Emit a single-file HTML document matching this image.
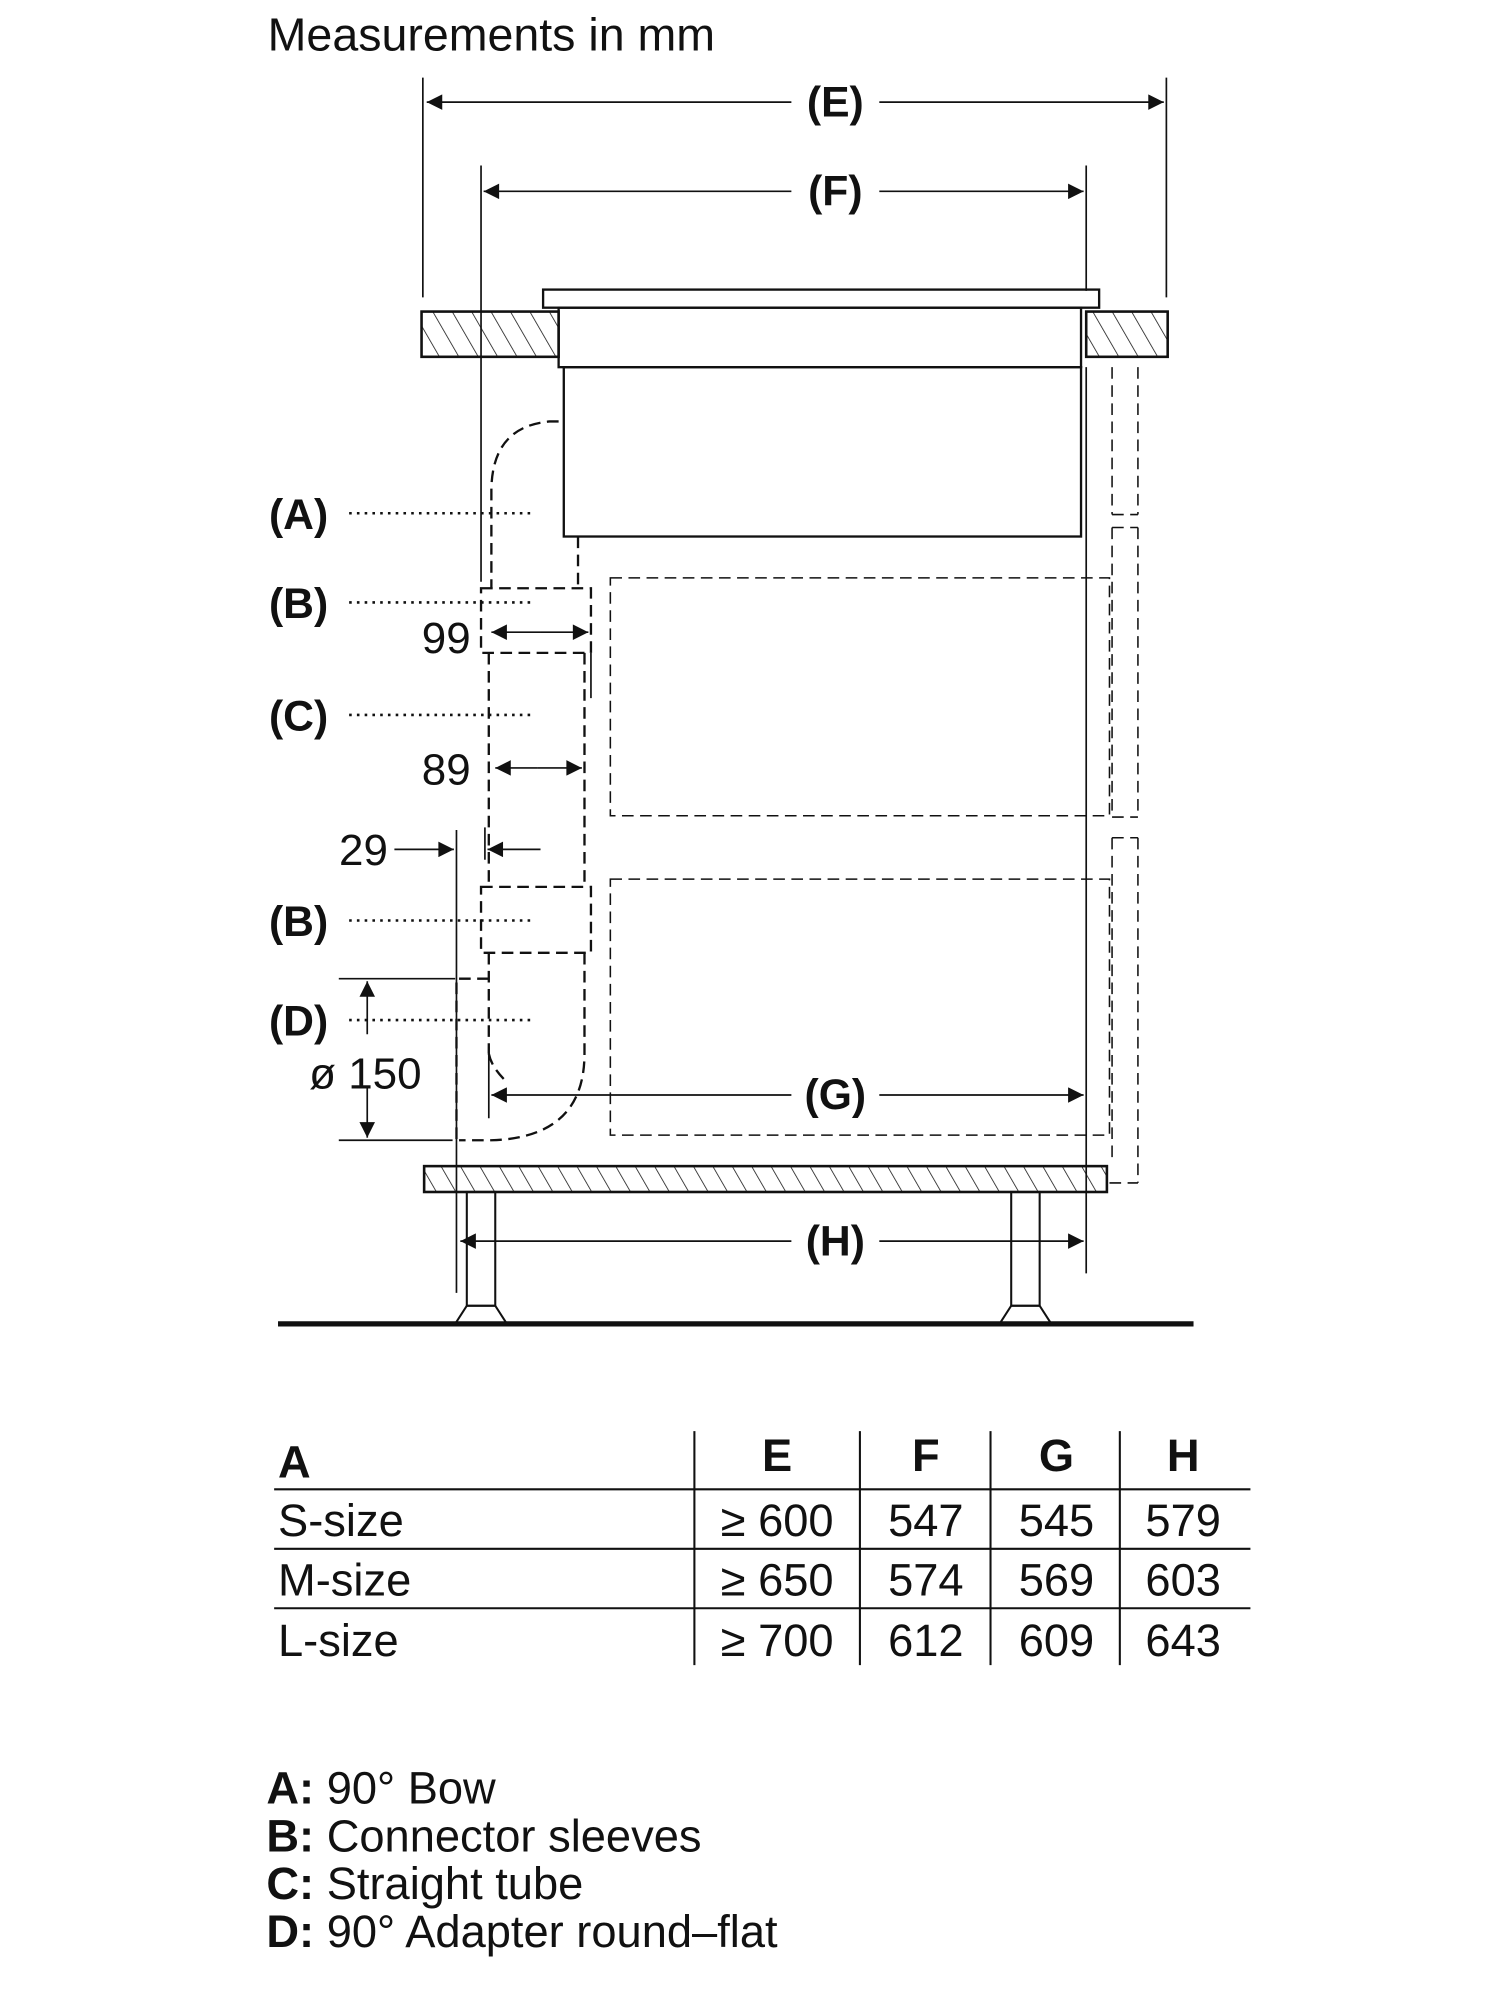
<!DOCTYPE html>
<html><head><meta charset="utf-8"><style>
html,body{margin:0;padding:0;background:#fff;}
svg{display:block;}
text{font-family:"Liberation Sans Narrow","Liberation Sans",sans-serif;fill:#111;}
</style></head><body>
<svg width="1500" height="2000" viewBox="0 0 1160 1547" preserveAspectRatio="none" xmlns="http://www.w3.org/2000/svg">
<defs>
<pattern id="h" patternUnits="userSpaceOnUse" width="13" height="13" patternTransform="rotate(-30)">
<line x1="0" y1="0" x2="0" y2="13" stroke="#111" stroke-width="1.2"/>
</pattern>
<marker id="a" viewBox="0 0 10 10" refX="10" refY="5" markerWidth="16" markerHeight="12" markerUnits="userSpaceOnUse" orient="auto">
<path d="M0,0 L10,5 L0,10 z" fill="#111"/>
</marker>
</defs>
<g stroke="#111" fill="none" stroke-width="1.3">
<text x="207" y="39" font-size="36" stroke="none" style="font-family:'Liberation Sans',sans-serif">Measurements in mm</text>

<line x1="327" y1="60" x2="327" y2="230"/>
<line x1="902" y1="60" x2="902" y2="230"/>
<line x1="372" y1="128" x2="372" y2="450"/>
<line x1="840" y1="128" x2="840" y2="225"/>
<line x1="840" y1="284" x2="840" y2="985"/>
<line x1="612" y1="79" x2="330" y2="79" marker-end="url(#a)"/>
<line x1="680" y1="79" x2="900" y2="79" marker-end="url(#a)"/>
<text x="646" y="90" font-size="33" font-weight="bold" text-anchor="middle" stroke="none">(E)</text>
<line x1="612" y1="148" x2="374" y2="148" marker-end="url(#a)"/>
<line x1="680" y1="148" x2="838" y2="148" marker-end="url(#a)"/>
<text x="646" y="159" font-size="33" font-weight="bold" text-anchor="middle" stroke="none">(F)</text>

<rect x="326" y="241" width="106" height="35" fill="url(#h)" stroke-width="2"/>
<rect x="840" y="241" width="63" height="35" fill="url(#h)" stroke-width="2"/>
<rect x="420" y="224" width="430" height="14" stroke-width="1.8"/>
<rect x="432" y="238" width="404" height="46" stroke-width="1.8"/>
<rect x="436" y="284" width="400" height="131" stroke-width="1.8"/>

<g stroke-dasharray="9,5" stroke-width="1.2">
<line x1="860" y1="284" x2="860" y2="398"/><line x1="880" y1="284" x2="880" y2="398"/><line x1="860" y1="398" x2="880" y2="398"/>
<line x1="860" y1="408" x2="880" y2="408"/><line x1="860" y1="408" x2="860" y2="632"/><line x1="880" y1="408" x2="880" y2="632"/><line x1="860" y1="632" x2="880" y2="632"/>
<line x1="860" y1="648" x2="880" y2="648"/><line x1="860" y1="648" x2="860" y2="900"/><line x1="880" y1="648" x2="880" y2="915"/><line x1="858" y1="915" x2="880" y2="915"/>
<rect x="472" y="447" width="386" height="184"/>
<rect x="472" y="680" width="386" height="198"/>
</g>
<g stroke-dasharray="9,5" stroke-width="1.8">
<path d="M432,326 L425,326 Q380,330 380,380 L380,455"/>
<line x1="447" y1="415" x2="447" y2="455"/>
<rect x="372" y="455" width="85" height="50"/>
<line x1="378" y1="505" x2="378" y2="686"/>
<line x1="452" y1="505" x2="452" y2="686"/>
<rect x="372" y="686" width="85" height="51"/>
<line x1="378" y1="737" x2="378" y2="815"/>
<path d="M452,737 L452,815 Q452,880 380,882 L355,882"/>
<path d="M378,757 L353,757 L353,882"/>
<path d="M378,815 Q380,825 390,835"/>
</g>
<line x1="457" y1="505" x2="457" y2="540"/>
<line x1="418" y1="489" x2="380" y2="489" marker-end="url(#a)"/>
<line x1="418" y1="489" x2="455" y2="489" marker-end="url(#a)"/>
<text x="364" y="505" font-size="34" text-anchor="end" stroke="none">99</text>
<line x1="416" y1="594" x2="383" y2="594" marker-end="url(#a)"/>
<line x1="416" y1="594" x2="450" y2="594" marker-end="url(#a)"/>
<text x="364" y="607" font-size="34" text-anchor="end" stroke="none">89</text>
<line x1="305" y1="657" x2="351" y2="657" marker-end="url(#a)"/>
<line x1="418" y1="657" x2="377" y2="657" marker-end="url(#a)"/>
<line x1="375" y1="640" x2="375" y2="665"/>
<line x1="353" y1="642" x2="353" y2="1000"/>
<text x="300" y="669" font-size="34" text-anchor="end" stroke="none">29</text>
<line x1="262" y1="757" x2="352" y2="757"/>
<line x1="262" y1="882" x2="350" y2="882"/>
<line x1="284" y1="800" x2="284" y2="759" marker-end="url(#a)"/>
<line x1="284" y1="840" x2="284" y2="880" marker-end="url(#a)"/>
<text x="326" y="842" font-size="34" text-anchor="end" stroke="none">ø 150</text>
<g stroke="none" font-size="33" font-weight="bold">
<text x="208" y="409">(A)</text>
<text x="208" y="478">(B)</text>
<text x="208" y="565">(C)</text>
<text x="208" y="724">(B)</text>
<text x="208" y="801">(D)</text>
</g>
<g stroke-dasharray="2,4" stroke-width="2">
<line x1="270" y1="397" x2="412" y2="397"/>
<line x1="270" y1="466" x2="412" y2="466"/>
<line x1="270" y1="553" x2="412" y2="553"/>
<line x1="270" y1="712" x2="412" y2="712"/>
<line x1="270" y1="789" x2="412" y2="789"/>
</g>
<line x1="378" y1="810" x2="378" y2="865"/>
<line x1="612" y1="847" x2="380" y2="847" marker-end="url(#a)"/>
<line x1="680" y1="847" x2="838" y2="847" marker-end="url(#a)"/>
<text x="646" y="858" font-size="33" font-weight="bold" text-anchor="middle" stroke="none">(G)</text>

<rect x="328" y="902" width="528" height="20" fill="url(#h)" stroke-width="2"/>
<rect x="361" y="922" width="22" height="88" stroke-width="1.6"/>
<path d="M361,1010 L383,1010 L392,1024 L352,1024 Z" stroke-width="1.6"/>
<rect x="782" y="922" width="22" height="88" stroke-width="1.6"/>
<path d="M782,1010 L804,1010 L813,1024 L773,1024 Z" stroke-width="1.6"/>
<line x1="215" y1="1024" x2="923" y2="1024" stroke-width="4"/>
<line x1="612" y1="960" x2="356" y2="960" marker-end="url(#a)"/>
<line x1="680" y1="960" x2="838" y2="960" marker-end="url(#a)"/>
<text x="646" y="971" font-size="33" font-weight="bold" text-anchor="middle" stroke="none">(H)</text>

<g stroke-width="1.6">
<line x1="212" y1="1152" x2="967" y2="1152"/>
<line x1="212" y1="1198" x2="967" y2="1198"/>
<line x1="212" y1="1244" x2="967" y2="1244"/>
<line x1="537" y1="1107" x2="537" y2="1288"/>
<line x1="665" y1="1107" x2="665" y2="1288"/>
<line x1="766" y1="1107" x2="766" y2="1288"/>
<line x1="866" y1="1107" x2="866" y2="1288"/>
</g>
<g stroke="none" font-size="35">
<text x="215" y="1143" font-weight="bold">A</text>
<text x="601" y="1138" font-weight="bold" text-anchor="middle">E</text>
<text x="716" y="1138" font-weight="bold" text-anchor="middle">F</text>
<text x="817" y="1138" font-weight="bold" text-anchor="middle">G</text>
<text x="915" y="1138" font-weight="bold" text-anchor="middle">H</text>
<text x="215" y="1188">S-size</text>
<text x="601" y="1188" text-anchor="middle">≥ 600</text>
<text x="716" y="1188" text-anchor="middle">547</text>
<text x="817" y="1188" text-anchor="middle">545</text>
<text x="915" y="1188" text-anchor="middle">579</text>
<text x="215" y="1234">M-size</text>
<text x="601" y="1234" text-anchor="middle">≥ 650</text>
<text x="716" y="1234" text-anchor="middle">574</text>
<text x="817" y="1234" text-anchor="middle">569</text>
<text x="915" y="1234" text-anchor="middle">603</text>
<text x="215" y="1281">L-size</text>
<text x="601" y="1281" text-anchor="middle">≥ 700</text>
<text x="716" y="1281" text-anchor="middle">612</text>
<text x="817" y="1281" text-anchor="middle">609</text>
<text x="915" y="1281" text-anchor="middle">643</text>
</g>
<g stroke="none" font-size="35">
<text x="206" y="1395"><tspan font-weight="bold">A:</tspan> 90° Bow</text>
<text x="206" y="1432"><tspan font-weight="bold">B:</tspan> Connector sleeves</text>
<text x="206" y="1469"><tspan font-weight="bold">C:</tspan> Straight tube</text>
<text x="206" y="1506"><tspan font-weight="bold">D:</tspan> 90° Adapter round–flat</text>
</g>
</g>
</svg>
</body></html>
